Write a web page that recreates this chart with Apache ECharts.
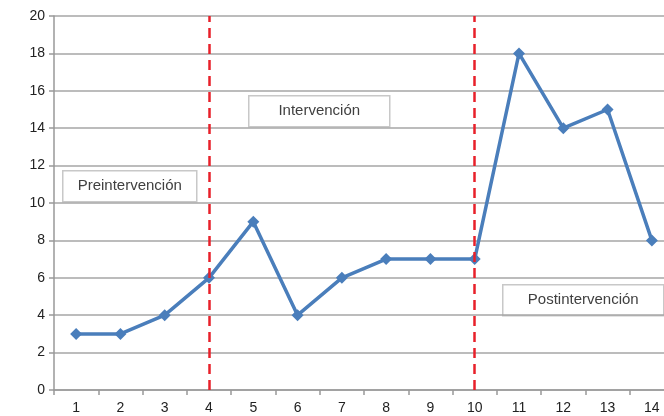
<!DOCTYPE html>
<html><head><meta charset="utf-8">
<script src="https://cdn.jsdelivr.net/npm/echarts@6/dist/echarts.min.js"></script>
<style>html,body{margin:0;padding:0;background:#fff;overflow:hidden}#c{width:674px;height:416px}</style>
</head><body><div id="c"></div>
<script>
const categories = ['1','2','3','4','5','6','7','8','9','10','11','12','13','14'];
const values = [3,3,4,6,9,4,6,7,7,7,18,14,15,8];
const phaseLines = ['4','10'];
const yTicks = {min:0, max:20, interval:2};
const phaseLabels = ['Preintervención','Intervención','Postintervención'];

const chart = echarts.init(document.getElementById('c'));
const font = '"Liberation Sans", Arial, sans-serif';
function box(text, left, top, w, h){
  return {type:'group', left:left, top:top, children:[
    {type:'rect', shape:{x:0,y:0,width:w,height:h}, style:{fill:'#fff', stroke:'#c8c8c8', lineWidth:1.5}},
    {type:'text', x:w/2, y:h/2, style:{text:text, fill:'#404040', font:'15px '+font, textAlign:'center', textVerticalAlign:'middle'}}
  ]};
}
chart.setOption({
  animation:false,
  grid:{left:54, top:16, bottom:26, right:0},
  xAxis:{type:'category', data:categories, boundaryGap:true,
    axisLine:{lineStyle:{color:'#999', width:1.5}},
    axisTick:{show:true, length:5, lineStyle:{color:'#999', width:1.5}},
    axisLabel:{color:'#222', fontSize:14, fontFamily:font, margin:11}},
  yAxis:{type:'value', min:yTicks.min, max:yTicks.max, interval:yTicks.interval,
    axisLine:{show:true, lineStyle:{color:'#999', width:1.5}},
    axisTick:{show:true, length:5, lineStyle:{color:'#999', width:1.5}},
    splitLine:{lineStyle:{color:'#a6a6a6', width:1.5}},
    axisLabel:{color:'#222', fontSize:14, fontFamily:font, margin:9}},
  series:[{type:'line', data:values, smooth:false,
    lineStyle:{color:'#4a7ebb', width:3.5},
    itemStyle:{color:'#4a7ebb'},
    symbol:'diamond', symbolSize:12,
    markLine:{silent:true, symbol:'none', label:{show:false},
      lineStyle:{color:'#e8202a', type:[10,6], width:2.5},
      data:phaseLines.map(c=>({xAxis:c}))}
  }],
  graphic:[
    box(phaseLabels[0], 62, 170, 134, 31),
    box(phaseLabels[1], 248, 95, 141, 31),
    box(phaseLabels[2], 502, 284, 161, 31)
  ]
});
</script></body></html>
